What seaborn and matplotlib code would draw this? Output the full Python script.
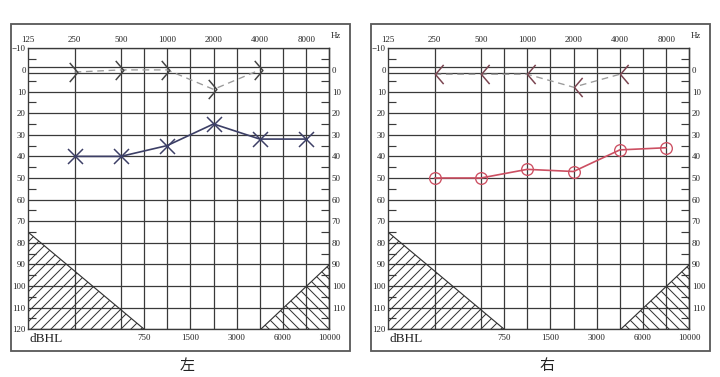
import numpy as np
import matplotlib
matplotlib.use("Agg")
import matplotlib.pyplot as plt
import seaborn as sns
from matplotlib.path import Path
from matplotlib.patches import Rectangle
from matplotlib.ticker import FixedLocator, FixedFormatter, NullFormatter

# ---------------- data ----------------
freqs = [250, 500, 1000, 2000, 4000, 8000]
left_air = [40, 40, 35, 25, 32, 32]          # X, left ear air conduction
bone_freqs = [250, 500, 1000, 2000, 4000]
left_bone = [1, 0, 0, 9, 0]                  # > , left ear bone conduction
right_air = [50, 50, 46, 47, 37, 36]         # O, right ear air conduction
right_bone = [2, 2, 2, 8, 2]                 # < , right ear bone conduction

top_ticks = [125, 250, 500, 1000, 2000, 4000, 8000]
top_labels = ["125", "250", "500", "1000", "2000", "4000", "8000"]
bottom_labels = ["750", "1500", "3000", "6000", "10000"]
left_ylabels = list(range(-10, 121, 10))
right_ylabels = list(range(0, 111, 10))
panel_titles = ["左", "右"]

# masking (hatched) regions  (freq, dB)
mask_lo_f = [125, 125, 500 * np.sqrt(2)]
mask_lo_db = [75, 120, 120]
mask_hi_f = [4000, 8000 * np.sqrt(2), 8000 * np.sqrt(2)]
mask_hi_db = [120, 120, 90]

# ---------------- style ----------------
sns.set_theme(style="white")
plt.rcParams["font.family"] = ["Liberation Serif", "Noto Sans CJK SC", "DejaVu Sans"]
plt.rcParams["hatch.linewidth"] = 0.6

W, H, DPI = 720, 377, 120
fig = plt.figure(figsize=(W / DPI, H / DPI), dpi=DPI, facecolor="white")

grid_c = "#3a3a3a"
half_oct = [f * np.sqrt(2) for f in [500, 1000, 2000, 4000, 8000]]
vgrid = [250, 500, 1000, 2000, 4000, 8000] + half_oct[:-1]
hgrid = [-10, -1.4, 1.4] + list(range(10, 121, 10))

chev_r = Path([(-0.6, 1), (0.25, 0), (-0.6, -1)], [Path.MOVETO, Path.LINETO, Path.LINETO])
chev_l = Path([(0.85, 1), (0, 0), (0.85, -1)], [Path.MOVETO, Path.LINETO, Path.LINETO])

def px(x0, y0, w, h):
    return [x0 / W, 1 - (y0 + h) / H, w / W, h / H]

def make_panel(left_px, frame_left_px, title_x, title):
    ax = fig.add_axes(px(left_px, 48.3, 301, 281))
    ax.set_facecolor("white")
    ax.set_xscale("log", base=2)
    ax.set_xlim(125, 8000 * np.sqrt(2))
    ax.set_ylim(120, -10)
    for f in vgrid:
        ax.axvline(f, color=grid_c, lw=0.75, zorder=1)
    for d in hgrid:
        ax.axhline(d, color=grid_c, lw=0.75, zorder=1)
    for s in ax.spines.values():
        s.set_color(grid_c)
        s.set_linewidth(0.8)
    # x ticks: octaves on top, half-octaves at bottom
    ax.xaxis.set_major_locator(FixedLocator(top_ticks))
    ax.xaxis.set_major_formatter(FixedFormatter(top_labels))
    ax.xaxis.set_minor_locator(FixedLocator(half_oct))
    ax.xaxis.set_minor_formatter(FixedFormatter(bottom_labels))
    ax.tick_params(axis="x", which="major", top=True, labeltop=True, bottom=False,
                   labelbottom=False, length=0, pad=2.5, labelsize=5.3, colors="#222")
    ax.tick_params(axis="x", which="minor", top=False, labeltop=False, bottom=True,
                   labelbottom=True, length=0, pad=3.0, labelsize=5.3, colors="#222")
    # y ticks
    ax.yaxis.set_major_locator(FixedLocator(left_ylabels))
    ax.yaxis.set_minor_locator(FixedLocator(list(range(-5, 116, 10))))
    ax.yaxis.set_minor_formatter(NullFormatter())
    ax.tick_params(axis="y", which="major", left=True, length=0, pad=1.5,
                   labelsize=5.3, colors="#222")
    ax.tick_params(axis="y", which="minor", left=True, right=True, direction="in",
                   length=4.8, width=0.7, color=grid_c)
    sec = ax.secondary_yaxis("right")
    sec.set_yticks(right_ylabels)
    sec.tick_params(length=0, pad=1.5, labelsize=5.3, colors="#222")
    sec.spines["right"].set_color(grid_c)
    sec.spines["right"].set_linewidth(0.8)
    # Hz / dBHL
    ax.text(1.005, 1.028, "Hz", transform=ax.transAxes, fontsize=5.3,
            ha="left", va="bottom", color="#222")
    ax.text(0.005, -0.012, "dBHL", transform=ax.transAxes, fontsize=8,
            ha="left", va="top", color="#222")
    # masks
    ax.fill(mask_lo_f, mask_lo_db, facecolor="none", edgecolor="#333333",
            hatch="////", lw=0.7, zorder=2)
    ax.fill(mask_hi_f, mask_hi_db, facecolor="none", edgecolor="#333333",
            hatch="\\\\\\\\", lw=0.7, zorder=2)
    # outer frame
    fig.add_artist(Rectangle((frame_left_px / W, 1 - 351 / H), 339.3 / W, 327 / H,
                             transform=fig.transFigure, fill=False,
                             edgecolor="#5a5a5a", lw=1.1))
    fig.text(title_x / W, 1 - 366 / H, title, family=["Noto Sans CJK SC"],
             fontsize=9, ha="center", va="center", color="#222")
    return ax

axL = make_panel(28.3, 10.7, 187, panel_titles[0])
axR = make_panel(388.3, 370.7, 547, panel_titles[1])

navy = "#3c3f66"
red = "#cc4f62"

# left ear
sns.lineplot(x=bone_freqs, y=left_bone, ax=axL, color="#9a9a9a", lw=0.8,
             linestyle=(0, (5, 3.5)), sort=False, errorbar=None, zorder=3)
sns.lineplot(x=bone_freqs, y=left_bone, ax=axL, color="#444444", lw=0,
             marker=chev_r, markersize=11.5, markeredgewidth=0.9,
             markerfacecolor="none", markeredgecolor="#444444", sort=False,
             errorbar=None, zorder=4)
sns.lineplot(x=freqs, y=left_air, ax=axL, color=navy, lw=1.0, marker="x",
             markersize=9, markeredgewidth=0.9, markeredgecolor=navy,
             sort=False, errorbar=None, zorder=4)

# right ear
sns.lineplot(x=bone_freqs, y=right_bone, ax=axR, color="#9a9a9a", lw=0.8,
             linestyle=(0, (5, 3.5)), sort=False, errorbar=None, zorder=3)
sns.lineplot(x=bone_freqs, y=right_bone, ax=axR, color="#7a4450", lw=0,
             marker=chev_l, markersize=11.5, markeredgewidth=0.9,
             markerfacecolor="none", markeredgecolor="#7a4450", sort=False,
             errorbar=None, zorder=4)
sns.lineplot(x=freqs, y=right_air, ax=axR, color=red, lw=1.0, marker="o",
             markersize=7, markeredgewidth=0.8, markerfacecolor="none",
             markeredgecolor=red, sort=False, errorbar=None, zorder=4)

for ax in (axL, axR):
    ax.set_xlabel("")
    ax.set_ylabel("")

fig.savefig("out.png", dpi=DPI, facecolor="white")
